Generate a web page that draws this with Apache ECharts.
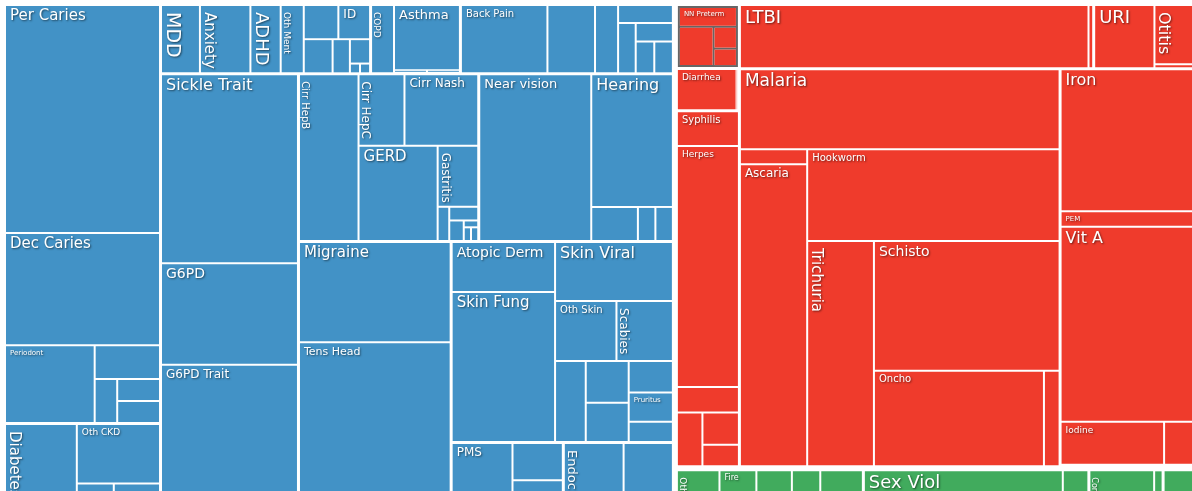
<!DOCTYPE html>
<html><head><meta charset="utf-8">
<script src="https://cdn.jsdelivr.net/npm/echarts@6/dist/echarts.min.js"></script>
<style>html,body{margin:0;padding:0;background:#fff;}#c{width:1192px;height:491px;}</style>
</head><body><div id="c"></div>
<script>
// ---------- DATA (cell areas, incl. their share of the gaps) ----------
const causeNames = ['Non-communicable diseases', 'Communicable, maternal, neonatal, nutritional', 'Injuries'];

// Non-communicable groups
const oralNames = ['Per Caries', 'Dec Caries', 'Periodont', 'Edentul', 'Oth Oral', 'Oral Strip A', 'Oral Strip B'];
const oralValues = [35500, 17500, 7000, 2200, 1000, 950, 950];
const dmckdNames = ['Diabetes 2', 'Oth CKD', 'Diabetes 1', 'CKD DM', 'CKD HTN'];
const dmckdValues = [8200, 5000, 2000, 1600, 900];
const mentalNames = ['MDD', 'Anxiety', 'ADHD', 'Oth Ment', 'Conduct', 'ID', 'Dysthymia', 'Bipolar', 'Autism', 'Schizo', 'Eating'];
const mentalValues = [2700, 3500, 2100, 1600, 1200, 1100, 1000, 600, 500, 100, 100];
const respNames = ['COPD', 'Asthma', 'Oth Resp', 'Pneumocon'];
const respValues = [1600, 4400, 100, 100];
const mskNames = ['Back Pain', 'Neck Pain', 'Oth MSK', 'Osteoarth', 'Gout', 'RA', 'Osteo Hip', 'Spondyl'];
const mskValues = [6000, 3300, 1600, 1000, 900, 700, 600, 600];
const hemoNames = ['Sickle Trait', 'G6PD', 'G6PD Trait', 'Thal Trait', 'Oth Hemo'];
const hemoValues = [26000, 14000, 21500, 1600, 600];
const digestNames = ['Cirr HepB', 'Cirr HepC', 'Cirr Nash', 'GERD', 'Gastritis', 'Gallbladder', 'Oth Digest', 'Cirr Oth', 'IBD', 'Pancreatitis', 'Paralytic'];
const digestValues = [10000, 3300, 5300, 7600, 2500, 400, 400, 300, 100, 100, 100];
const senseNames = ['Near vision', 'Hearing', 'Refraction', 'Oth Sense', 'Blindness'];
const senseValues = [18800, 10900, 1600, 600, 600];
const neuroNames = ['Migraine', 'Tens Head', 'Epilepsy', 'Oth Neuro'];
const neuroValues = [15300, 28900, 500, 300];
const skinNames = ['Atopic Derm', 'Skin Fung', 'Skin Viral', 'Oth Skin', 'Scabies', 'Psoriasis', 'Alopecia', 'Derm Oth', 'Urticaria', 'Pruritus', 'Acne'];
const skinValues = [5200, 15600, 7000, 3700, 3400, 2500, 1800, 1700, 1400, 1300, 900];
const gyneNames = ['PMS', 'Endometr', 'Uterine Fib', 'Infertility', 'Oth Gyne', 'Genital Prol'];
const gyneValues = [5800, 1900, 1600, 700, 400, 200];
const endoNames = ['Endocrine', 'Oth NCD', 'Congenital'];
const endoValues = [5700, 2700, 2000];

// Communicable, maternal, neonatal, nutritional groups
const neonatalNames = ['NN Preterm', 'NN Enceph', 'NN Sepsis', 'NN Oth'];
const neonatalValues = [1350, 1600, 600, 480];
const entericNames = ['Diarrhea', 'Typhoid'];
const entericValues = [2550, 100];
const stiNames = ['Syphilis', 'Herpes', 'Trichom', 'Gonorrhea', 'Chlamydia', 'HIV'];
const stiValues = [2200, 15200, 1600, 1400, 1200, 800];
const tbNames = ['LTBI', 'TB'];
const tbValues = [22400, 300];
const respInfNames = ['URI', 'Otitis', 'LRI'];
const respInfValues = [3900, 2400, 160];
const ntdNames = ['Malaria', 'Oth NTD', 'Ascaria', 'Hookworm', 'Trichuria', 'Schisto', 'Oncho', 'LF'];
const ntdValues = [25700, 1000, 20400, 23200, 15100, 24200, 16300, 1500];
const nutrNames = ['Iron', 'PEM', 'Vit A', 'Iodine', 'Oth Nutr'];
const nutrValues = [19100, 2100, 26200, 4500, 1300];
const maternalNames = ['Mat Oth'];
const maternalValues = [200];

// Injury groups
const unintNames = ['Oth Mech', 'Fire', 'Falls', 'Poisoning', 'Drowning', 'Animal', 'Oth Unint'];
const unintValues = [3000, 2600, 2500, 2000, 1500, 1000, 500];
const intentNames = ['Sex Viol', 'Interpers', 'Self Harm'];
const intentValues = [14000, 1200, 600];
const conflictNames = ['Conflict Terror', 'Oth Inj'];
const conflictValues = [4600, 600];
const transNames = ['Road Inj', 'Oth Trans'];
const transValues = [1700, 500];

// ---------- STYLE LOOKUPS ----------
const causeColors = ['#4292c6', '#ef3b2c', '#41ab5d'];
const FONT = 'DejaVu Sans';
const labelSize = {
  'MDD': 19, 'Anxiety': 18, 'ADHD': 18, 'ID': 12, 'Oth Ment': 9, 'Bipolar': 8, 'Conduct': 8,
  'Back Pain': 10, 'COPD': 9, 'Asthma': 17, 'Cirr HepB': 10, 'Cirr HepC': 13, 'Hearing': 16,
  'Per Caries': 15, 'Dec Caries': 15, 'Periodont': 7, 'PMS': 12, 'Sickle Trait': 16, 'G6PD': 14,
  'G6PD Trait': 12, 'Endocrine': 13, 'Migraine': 15, 'Tens Head': 11, 'Diabetes 2': 15, 'Oth CKD': 9,
  'Cirr Nash': 13, 'Gastritis': 12, 'GERD': 15, 'Near vision': 13, 'Refraction': 12,
  'Atopic Derm': 14, 'Urticaria': 11, 'Scabies': 12, 'Skin Fung': 15, 'Skin Viral': 16, 'Oth Skin': 14, 'Pruritus': 8,
  'NN Preterm': 8, 'NN Enceph': 8, 'LTBI': 18, 'URI': 18, 'Otitis': 16, 'Diarrhea': 9, 'Syphilis': 10, 'Herpes': 9,
  'Malaria': 17, 'Ascaria': 12, 'Hookworm': 10, 'Trichuria': 15, 'Schisto': 14, 'Oncho': 10,
  'Iron': 16, 'PEM': 12, 'Vit A': 16, 'Iodine': 9,
  'Oth Mech': 9, 'Fire': 8, 'Sex Viol': 18, 'Conflict Terror': 9
};

const measureCtx = document.createElement('canvas').getContext('2d');
function textWidth(t, size) { measureCtx.font = size + 'px "' + FONT + '"'; return measureCtx.measureText(t).width; }

// choose a label that fits the cell the library laid out (horizontal first, else vertical)
function leafLabel(name, rect) {
  const size = labelSize[name];
  if (!size) return { show: false };
  if (!rect) return { show: true, fontSize: size };
  const w = rect.width, h = rect.height;
  for (let s = size; s >= 7; s--) {
    const tw = textWidth(name, s);
    if (tw + 13 <= w && s + 6 <= h) return { show: true, fontSize: s };
    if (h > w && tw + 8 <= h && s + 4 <= w) {
      return { show: true, fontSize: s, rotate: -90, overflow: 'none', align: 'left', verticalAlign: 'bottom', position: 'insideTopLeft', offset: [2, 3] };
    }
  }
  return { show: false };
}
function group(name, names, values, rects, extra) {
  const g = {
    name: name,
    children: names.map(function (n, i) { return { name: n, value: values[i], label: leafLabel(n, rects[n]) }; })
  };
  if (extra) Object.assign(g, extra);
  return g;
}

function buildData(rects) {
  return [
    { name: causeNames[0], itemStyle: { color: causeColors[0] }, children: [
      group('Oral', oralNames, oralValues, rects),
      group('Diabetes & CKD', dmckdNames, dmckdValues, rects),
      group('Mental', mentalNames, mentalValues, rects),
      group('Chronic respiratory', respNames, respValues, rects),
      group('Musculoskeletal', mskNames, mskValues, rects),
      group('Hemoglobinopathies', hemoNames, hemoValues, rects),
      group('Digestive', digestNames, digestValues, rects),
      group('Sense organ', senseNames, senseValues, rects),
      group('Neurological', neuroNames, neuroValues, rects),
      group('Skin', skinNames, skinValues, rects),
      group('Gynecological', gyneNames, gyneValues, rects),
      group('Other NCD', endoNames, endoValues, rects)
    ]},
    { name: causeNames[1], itemStyle: { color: causeColors[1] }, children: [
      group('Neonatal', neonatalNames, neonatalValues, rects, { itemStyle: { borderColor: '#666', borderWidth: 2 } }),
      group('Enteric', entericNames, entericValues, rects),
      group('HIV & STI', stiNames, stiValues, rects),
      group('Tuberculosis', tbNames, tbValues, rects),
      group('Respiratory infections', respInfNames, respInfValues, rects),
      group('NTDs & malaria', ntdNames, ntdValues, rects),
      group('Nutritional', nutrNames, nutrValues, rects),
      group('Maternal', maternalNames, maternalValues, rects)
    ]},
    { name: causeNames[2], itemStyle: { color: causeColors[2] }, children: [
      group('Unintentional', unintNames, unintValues, rects),
      group('Interpersonal', intentNames, intentValues, rects),
      group('Conflict', conflictNames, conflictValues, rects),
      group('Transport', transNames, transValues, rects)
    ]}
  ];
}

const chart = echarts.init(document.getElementById('c'), null, { renderer: 'canvas' });
const baseSeries = {
  type: 'treemap',
  left: 5, top: 5, width: 1189, height: 532,
  roam: false, nodeClick: false,
  sort: false, squareRatio: 0.6,
  breadcrumb: { show: false },
  label: {
    show: true, position: 'insideTopLeft', distance: 0, padding: [3, 4],
    color: '#fff', fontFamily: FONT, fontSize: 10,
    textShadowColor: 'rgba(0,0,0,0.55)', textShadowBlur: 2, textShadowOffsetX: 1, textShadowOffsetY: 1
  },
  upperLabel: { show: false },
  levels: [
    { itemStyle: { borderWidth: 0, gapWidth: 4, borderColor: '#fff' } },
    { itemStyle: { borderWidth: 1, gapWidth: 3, borderColor: '#fff' } },
    { itemStyle: { borderWidth: 0, gapWidth: 2, borderColor: '#fff' } },
    { itemStyle: { borderWidth: 0, gapWidth: 0, borderColor: '#fff' } }
  ]
};
chart.setOption({ animation: false, series: [Object.assign({}, baseSeries, { data: buildData({}) })] });

// read the cell sizes the treemap produced, then pick label size / orientation to fit
const rects = {};
try {
  const tree = chart.getModel().getSeriesByIndex(0).getData().tree;
  tree.root.eachNode(function (node) {
    const l = node.getLayout();
    if (l) rects[node.name] = { width: l.width, height: l.height };
  });
} catch (e) {}
chart.setOption({ series: [{ data: buildData(rects) }] });
</script>
</body></html>
